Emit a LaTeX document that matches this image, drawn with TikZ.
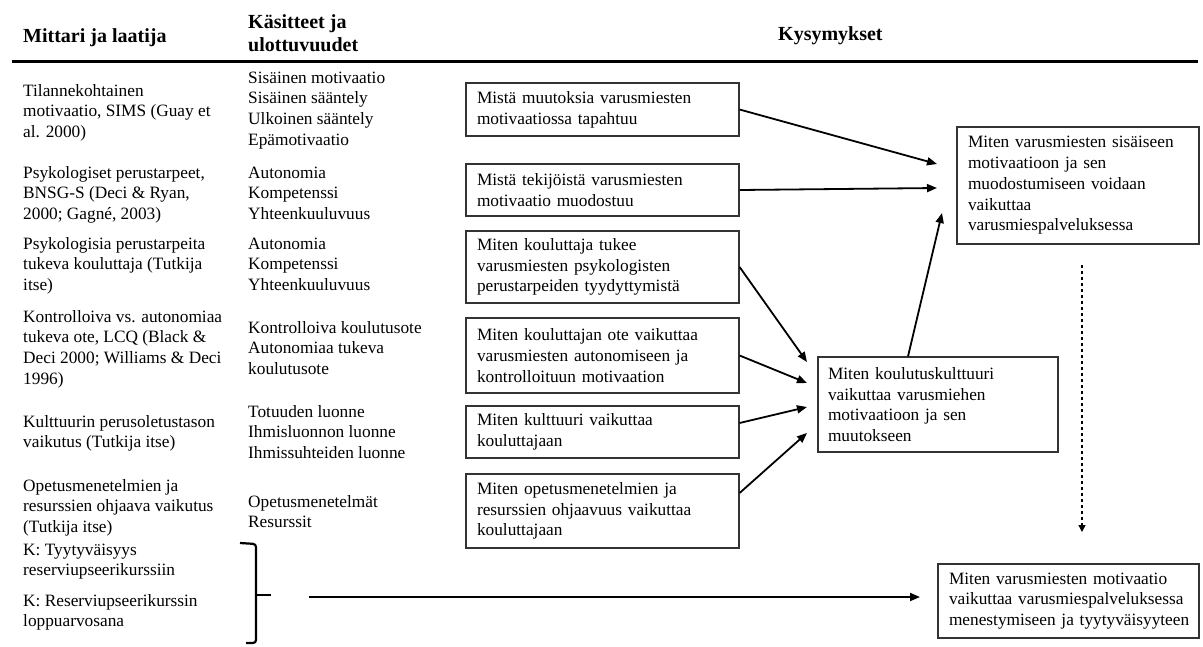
\documentclass[tikz,border=0pt]{standalone}
\usepackage{fontspec}
\setmainfont{Liberation Serif}
\usetikzlibrary{arrows.meta}

\begin{document}
\begin{tikzpicture}[x=1pt,y=-1pt,
  hdr/.style={font=\fontsize{20}{23}\selectfont\bfseries, align=left, inner sep=0pt, anchor=north west},
  cell/.style={font=\fontsize{17.3}{20.7}\selectfont, align=left, inner sep=0pt, anchor=north west},
  qbox/.style={draw=black!80, line width=1.2pt, font=\fontsize{17.3}{20.7}\selectfont,
    align=left, inner xsep=11pt, inner ysep=0pt, anchor=center},
  arr/.style={line width=1.8pt, -{Triangle[length=10pt,width=8pt]}},
  dotarr/.style={line width=1.3pt, dash pattern=on 3pt off 3pt, -{Triangle[length=7pt,width=7pt]}},
  brace/.style={line width=2.2pt, rounded corners=3pt}
]
\useasboundingbox (0,0) rectangle (1203,646);
\fill[white] (0,0) rectangle (1203,646);

% column headings
\node[hdr] (h1) at (23,25.9) {\strut Mittari ja laatija};
\node[hdr] (h2) at (248,11.9) {\strut Käsitteet ja\\ulottuvuudet};
\node[hdr] (h3) at (778,23.9) {\strut Kysymykset};
\draw[line width=3pt] (12,61) -- (1198,61);

% measures and authors
\node[cell] (l1) at (23,81.5)  {\strut Tilannekohtainen\\motivaatio, SIMS (Guay et\\al. 2000)};
\node[cell] (l2) at (23,163.5) {\strut Psykologiset perustarpeet,\\BNSG-S (Deci \& Ryan,\\2000; Gagné, 2003)};
\node[cell] (l3) at (23,234.5) {\strut Psykologisia perustarpeita\\tukeva kouluttaja (Tutkija\\itse)};
\node[cell] (l4) at (23,307.5) {\strut Kontrolloiva vs. autonomiaa\\tukeva ote, LCQ (Black \&\\Deci 2000; Williams \& Deci\\1996)};
\node[cell] (l5) at (23,412.5) {\strut Kulttuurin perusoletustason\\vaikutus (Tutkija itse)};
\node[cell] (l6) at (23,476.5) {\strut Opetusmenetelmien ja\\resurssien ohjaava vaikutus\\(Tutkija itse)};
\node[cell] (l7) at (23,540.5) {\strut K: Tyytyväisyys\\reserviupseerikurssiin};
\node[cell] (l8) at (23,591.5) {\strut K: Reserviupseerikurssin\\loppuarvosana};

% concepts and dimensions
\node[cell] (m1) at (248,68.5)  {\strut Sisäinen motivaatio\\Sisäinen sääntely\\Ulkoinen sääntely\\Epämotivaatio};
\node[cell] (m2) at (248,163.5) {\strut Autonomia\\Kompetenssi\\Yhteenkuuluvuus};
\node[cell] (m3) at (248,234.5) {\strut Autonomia\\Kompetenssi\\Yhteenkuuluvuus};
\node[cell] (m4) at (248,318.5) {\strut Kontrolloiva koulutusote\\Autonomiaa tukeva\\koulutusote};
\node[cell] (m5) at (248,402.5) {\strut Totuuden luonne\\Ihmisluonnon luonne\\Ihmissuhteiden luonne};
\node[cell] (m6) at (248,492.5) {\strut Opetusmenetelmät\\Resurssit};

% research questions
\node[qbox, text width=251pt, minimum height=53pt] (q1) at (602.5,109.5) {Mistä muutoksia varusmiesten\\motivaatiossa tapahtuu};
\node[qbox, text width=251pt, minimum height=52pt] (q2) at (602.5,190) {Mistä tekijöistä varusmiesten\\motivaatio muodostuu};
\node[qbox, text width=251pt, minimum height=72pt] (q3) at (602.5,267) {Miten kouluttaja tukee\\varusmiesten psykologisten\\perustarpeiden tyydyttymistä};
\node[qbox, text width=251pt, minimum height=75pt] (q4) at (602.5,355.5) {Miten kouluttajan ote vaikuttaa\\varusmiesten autonomiseen ja\\kontrolloituun motivaation};
\node[qbox, text width=251pt, minimum height=52pt] (q5) at (602.5,432) {Miten kulttuuri vaikuttaa\\kouluttajaan};
\node[qbox, text width=251pt, minimum height=74pt] (q6) at (602.5,511) {Miten opetusmenetelmien ja\\resurssien ohjaavuus vaikuttaa\\kouluttajaan};

\node[qbox, text width=220pt, minimum height=117pt] (top) at (1078,185.5) {Miten varusmiesten sisäiseen\\motivaatioon ja sen\\muodostumiseen voidaan\\vaikuttaa\\varusmiespalveluksessa};
\node[qbox, inner xsep=10pt, text width=220pt, minimum height=95pt] (mid) at (938,404.5) {Miten koulutuskulttuuri\\vaikuttaa varusmiehen\\motivaatioon ja sen\\muutokseen};
\node[qbox, text width=239pt, minimum height=74pt] (bot) at (1068.5,601) {\mbox{Miten varusmiesten motivaatio}\\\mbox{vaikuttaa varusmiespalveluksessa}\\\mbox{menestymiseen ja tyytyväisyyteen}};

% arrow end points in front of the target boxes
\coordinate (t1) at (937,164);
\coordinate (t2) at (937,188);
\coordinate (t3) at (942,213);
\coordinate (c1) at (807,362);
\coordinate (c2) at (807,383);
\coordinate (c3) at (807,407);
\coordinate (c4) at (807,433);
\coordinate (d0) at (1082,265);
\coordinate (d1) at (1082,532);
\coordinate (b0) at (309,597);
\coordinate (b1) at (920,597);

\draw[arr] (q1.east) -- (t1);
\draw[arr] (q2.east) -- (t2);
\draw[arr] ([xshift=-30pt]mid.north) -- (t3);
\draw[arr] (q3.east) -- (c1);
\draw[arr] (q4.east) -- (c2);
\draw[arr] ([yshift=9pt]q5.east) -- (c3);
\draw[arr] ([yshift=18pt]q6.east) -- (c4);
\draw[dotarr] (d0) -- (d1);

% brace grouping the two outcome measures
\draw[brace] (240,543) -- (256,544) -- (256,643) -- (246,643);
\draw[line width=2.2pt] (256,595) -- (271,595);
\draw[arr] (b0) -- (b1);
\end{tikzpicture}
\end{document}
